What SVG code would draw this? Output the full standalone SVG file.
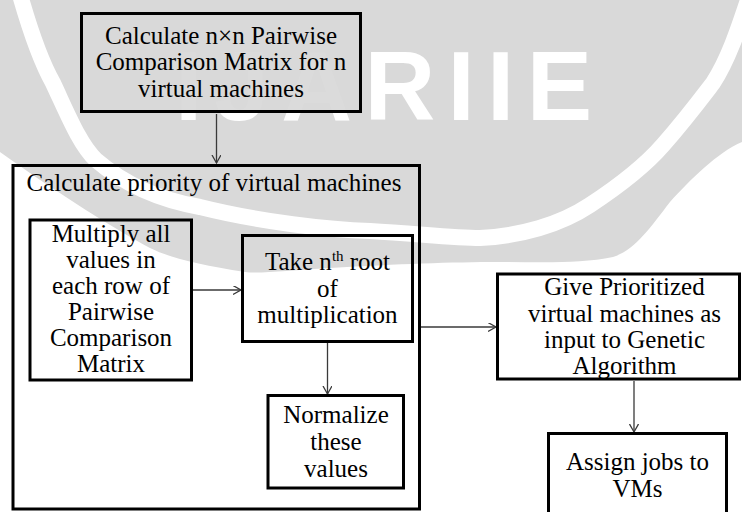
<svg xmlns="http://www.w3.org/2000/svg" width="742" height="512" viewBox="0 0 742 512">
  <defs>
    <style>
      .box { fill: none; stroke: #000; stroke-width: 3; }
      .lbl { font-size: 25px; fill: #000; text-anchor: middle; }
      .conn { fill: none; stroke: #3a3a3a; stroke-width: 1.3; marker-end: url(#arrow); }
      .wm { fill: #d9d9d9; }
    </style>
    <marker id="arrow" markerUnits="userSpaceOnUse" markerWidth="10" markerHeight="10" refX="8" refY="4.5" orient="auto">
      <path d="M0,0 L8,4.5 L0,9" fill="none" stroke="#3a3a3a" stroke-width="1.3"/>
    </marker>
  </defs>

  <rect width="742" height="512" fill="#fff"/>

  <!-- background watermark: disc, ring band and swoosh -->
  <g id="watermark">
    <path class="wm" d="M0,0 H742 V142 C718,152 690,180 670,202 C650,228 635,250 613,257 C580,264 540,262 500,262 C450,262 400,264 330,268 C290,270 260,274 245,272 C200,265 170,258 150,248 C120,232 60,195 0,152 Z"/>
    <path d="M20,-5 C30,30 40,60 53,83 C68,115 80,145 96,160 C125,185 160,200 200,207 C260,222 330,230 370,231 C420,234 455,238 480,238 C520,236 560,225 590,205 C625,182 650,160 663,145 C685,120 700,100 713,83 C728,60 738,30 748,0" fill="none" stroke="#fff" stroke-width="16"/>
    <text x="175" y="120" font-family="Liberation Sans, Arial, sans-serif" font-weight="bold" font-size="98" fill="#fff" textLength="417" lengthAdjust="spacing">IJARIIE</text>
  </g>

  <g id="connectors">
    <line class="conn" x1="216.5" y1="114" x2="216.5" y2="163"/>
    <line class="conn" x1="193" y1="290" x2="241" y2="290"/>
    <line class="conn" x1="327.5" y1="343" x2="327.5" y2="394"/>
    <line class="conn" x1="421" y1="327" x2="496" y2="327"/>
    <line class="conn" x1="634" y1="381" x2="634" y2="432"/>
  </g>

  <g font-family="Liberation Serif, Times New Roman, serif">
    <g id="pairwise-matrix">
      <rect x="81.5" y="13.5" width="279" height="98" fill="#d9d9d9" fill-opacity="0.94" stroke="#000" stroke-width="3"/>
      <text class="lbl" x="221" y="43.5">Calculate n×n Pairwise</text>
      <text class="lbl" x="221" y="70">Comparison Matrix for n</text>
      <text class="lbl" x="221" y="96.5">virtual machines</text>
    </g>

    <g id="priority-group">
      <rect class="box" x="13" y="165.5" width="406.5" height="343.5"/>
      <text class="lbl" x="214" y="191">Calculate priority of virtual machines</text>
    </g>

    <g id="multiply-rows">
      <rect class="box" x="30" y="220" width="161.5" height="160"/>
      <text class="lbl" x="111" y="242">Multiply all</text>
      <text class="lbl" x="111" y="268">values in</text>
      <text class="lbl" x="111" y="294">each row of</text>
      <text class="lbl" x="111" y="320">Pairwise</text>
      <text class="lbl" x="111" y="346">Comparison</text>
      <text class="lbl" x="111" y="372">Matrix</text>
    </g>

    <g id="nth-root">
      <rect class="box" x="242.5" y="235.5" width="170" height="106"/>
      <text class="lbl" x="327.5" y="270">Take n<tspan font-size="15" dy="-9">th</tspan><tspan dy="9"> root</tspan></text>
      <text class="lbl" x="327.5" y="296.5">of</text>
      <text class="lbl" x="327.5" y="322.5">multiplication</text>
    </g>

    <g id="normalize">
      <rect class="box" x="268" y="395.5" width="135.5" height="92.5"/>
      <text class="lbl" x="336" y="423">Normalize</text>
      <text class="lbl" x="336" y="450">these</text>
      <text class="lbl" x="336" y="476.5">values</text>
    </g>

    <g id="genetic-input">
      <rect class="box" x="497.5" y="274" width="242" height="105"/>
      <text class="lbl" x="624.5" y="295">Give Prioritized</text>
      <text class="lbl" x="624.5" y="321.5">virtual machines as</text>
      <text class="lbl" x="624.5" y="348">input to Genetic</text>
      <text class="lbl" x="624.5" y="374">Algorithm</text>
    </g>

    <g id="assign-jobs">
      <rect class="box" x="548.5" y="433.5" width="178" height="90"/>
      <text class="lbl" x="637.5" y="470">Assign jobs to</text>
      <text class="lbl" x="637.5" y="496.5">VMs</text>
    </g>
  </g>
</svg>
